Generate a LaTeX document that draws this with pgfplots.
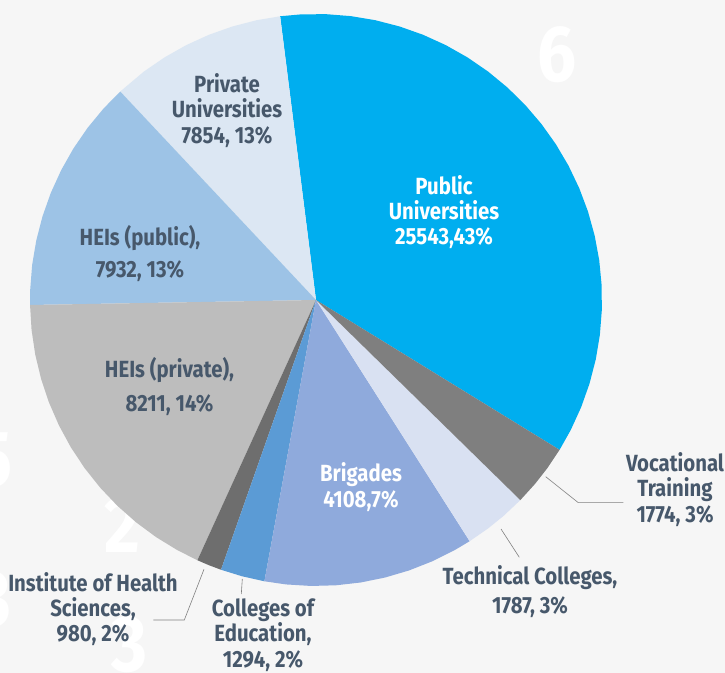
\documentclass[border=0pt]{standalone}
\usepackage{pgfplots}
\pgfplotsset{compat=1.18}
\usepackage{fontspec}
\setmainfont{Fira Sans}[FakeStretch=0.87]
\definecolor{bg}{HTML}{F6F6F6}
\definecolor{cPubU}{HTML}{00AEEF}
\definecolor{cPrivU}{HTML}{DCE7F3}
\definecolor{cHEIpub}{HTML}{9DC3E6}
\definecolor{cHEIpriv}{HTML}{BDBDBD}
\definecolor{cInst}{HTML}{6E6E6E}
\definecolor{cCol}{HTML}{5B9BD5}
\definecolor{cBrig}{HTML}{8FAADC}
\definecolor{cTech}{HTML}{D9E1F2}
\definecolor{cVoc}{HTML}{7F7F7F}
\definecolor{txt}{HTML}{47586B}
\definecolor{lead}{HTML}{808080}
\tikzset{lab/.style={font=\fontsize{23.5}{25.5}\selectfont\bfseries, text=txt, align=center, inner sep=0pt},
  wm/.style={text=white, font=\fontsize{80}{80}\selectfont\bfseries, inner sep=0pt}}
\begin{document}
\begin{tikzpicture}
\useasboundingbox (0,0) rectangle (725bp,673bp);
\clip (0,0) rectangle (725bp,673bp);
\fill[bg] (0,0) rectangle (725bp,673bp);
\begin{axis}[scale only axis, width=725bp, height=673bp, at={(0,0)}, anchor=south west,
  xmin=-316, xmax=409, ymin=-373, ymax=300, hide axis, clip=false]
% watermark digits
\node[wm] at (axis cs:241,245) {6};
\node[wm] at (axis cs:-194,-225) {2};
\node[wm] at (axis cs:-322,-160) {5};
\node[wm] at (axis cs:-322,-300) {3};
\node[wm] at (axis cs:-186,-345) {3};
% slices: polar (angle in degrees, radius in px); angle shares
\addplot[fill=cPubU, draw=none, data cs=polar] coordinates {(0,0) (-31.6,286) (-27,286) (-22,286) (-17,286) (-12,286) (-7,286) (-2,286) (3,286) (8,286) (13,286) (18,286) (23,286) (28,286) (33,286) (38,286) (43,286) (48,286) (53,286) (58,286) (63,286) (68,286) (73,286) (78,286) (83,286) (88,286) (93,286) (97.2,286)};
\addplot[fill=cPrivU, draw=none, data cs=polar] coordinates {(0,0) (97.2,286) (102,286) (107,286) (112,286) (117,286) (122,286) (127,286) (133.2,286)};
\addplot[fill=cHEIpub, draw=none, data cs=polar] coordinates {(0,0) (133.2,286) (138,286) (143,286) (148,286) (153,286) (158,286) (163,286) (168,286) (173,286) (178,286) (181,286)};
\addplot[fill=cHEIpriv, draw=none, data cs=polar] coordinates {(0,0) (181,286) (186,286) (191,286) (196,286) (201,286) (206,286) (211,286) (216,286) (221,286) (226,286) (231,286) (236,286) (241,286) (245.5,286)};
\addplot[fill=cInst, draw=none, data cs=polar] coordinates {(0,0) (245.5,286) (248,286) (250.6,286)};
\addplot[fill=cCol, draw=none, data cs=polar] coordinates {(0,0) (250.6,286) (255,286) (259.6,286)};
\addplot[fill=cBrig, draw=none, data cs=polar] coordinates {(0,0) (259.6,286) (264,286) (269,286) (274,286) (279,286) (284,286) (289,286) (294,286) (299,286) (302.5,286)};
\addplot[fill=cTech, draw=none, data cs=polar] coordinates {(0,0) (302.5,286) (307,286) (311,286) (315.6,286)};
\addplot[fill=cVoc, draw=none, data cs=polar] coordinates {(0,0) (315.6,286) (320,286) (324,286) (328.4,286)};
% leader lines
\addplot[lead, line width=0.6pt, mark=none] coordinates {(229.7,-176.7) (262.3,-202.7) (307.3,-202.7)};
\addplot[lead, line width=0.6pt, mark=none] coordinates {(185,-229) (203.3,-257.3)};
\addplot[lead, line width=0.6pt, mark=none] coordinates {(-112,-269.3) (-131.7,-320) (-162.7,-320)};
\addplot[lead, line width=0.6pt, mark=none] coordinates {(-73.7,-279) (-74.7,-294)};
% labels
\node[lab] at (axis cs:-89,189.5) {Private\\Universities\\7854, 13\%};
\node[lab, text=white] at (axis cs:128,88) {Public\\Universities\\25543,43\%};
\node[lab] at (axis cs:-176,46.5) {HEIs (public),\\[7.5bp]7932, 13\%};
\node[lab] at (axis cs:-146.5,-86.5) {HEIs (private),\\[9.5bp]8211, 14\%};
\node[lab, text=white] at (axis cs:45,-187) {Brigades\\4108,7\%};
\node[lab] at (axis cs:359,-189.5) {Vocational\\Training\\1774, 3\%};
\node[lab] at (axis cs:214,-291.5) {Technical Colleges,\\[3.5bp]1787, 3\%};
\node[lab] at (axis cs:-53,-335) {Colleges of\\Education,\\1294, 2\%};
\node[lab] at (axis cs:-223,-309) {Institute of Health\\Sciences,\\980, 2\%};
\end{axis}
\end{tikzpicture}
\end{document}
